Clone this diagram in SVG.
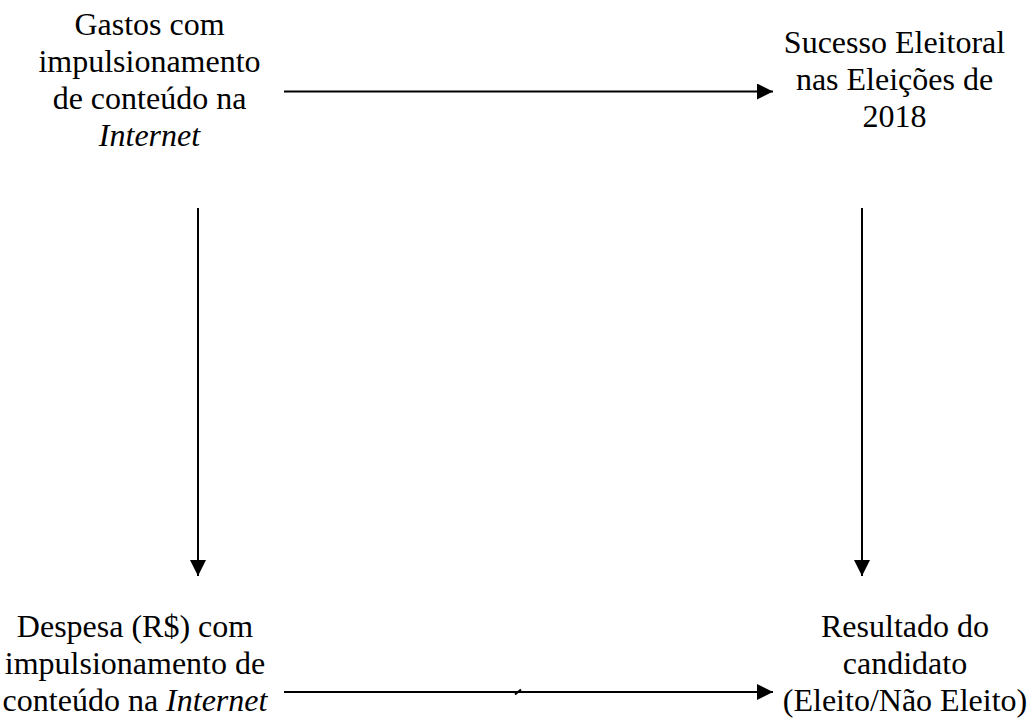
<svg xmlns="http://www.w3.org/2000/svg" width="1031" height="719" viewBox="0 0 1031 719">
<style>
text{font-family:"Liberation Serif","Times New Roman",serif;font-size:32px;fill:#000;text-anchor:middle}
.i{font-style:italic}
.c{stroke:#000;stroke-width:2;fill:none}
</style>
<defs>
<marker id="ah" viewBox="0 0 16 16" refX="16" refY="8" markerWidth="16" markerHeight="16" markerUnits="userSpaceOnUse" orient="auto">
<path d="M0,0 L16,8 L0,16 z" fill="#000"/>
</marker>
</defs>
<rect width="1031" height="719" fill="#fff"/>
<g id="n1">
<text x="149.5" y="35">Gastos com</text>
<text x="149.5" y="72">impulsionamento</text>
<text x="149.5" y="109">de conteúdo na</text>
<text x="149.5" y="146" class="i">Internet</text>
</g>
<g id="n2">
<text x="894.5" y="53">Sucesso Eleitoral</text>
<text x="894.5" y="90">nas Eleições de</text>
<text x="894.5" y="127">2018</text>
</g>
<g id="n3">
<text x="135" y="637">Despesa (R$) com</text>
<text x="135" y="674">impulsionamento de</text>
<text x="135" y="711">conteúdo na <tspan class="i">Internet</tspan></text>
</g>
<g id="n4">
<text x="905" y="637">Resultado do</text>
<text x="905" y="674">candidato</text>
<text x="905" y="711">(Eleito/Não Eleito)</text>
</g>
<g id="connectors">
<line class="c" x1="284" y1="91.5" x2="773" y2="91.5" marker-end="url(#ah)"/>
<line class="c" x1="198" y1="208" x2="198" y2="576" marker-end="url(#ah)"/>
<line class="c" x1="862" y1="208" x2="862" y2="576" marker-end="url(#ah)"/>
<line class="c" x1="284" y1="692" x2="773" y2="692" marker-end="url(#ah)"/>
<path class="c" d="M515,694.5 L521,689.5" stroke-width="1.5"/>
</g>
</svg>
